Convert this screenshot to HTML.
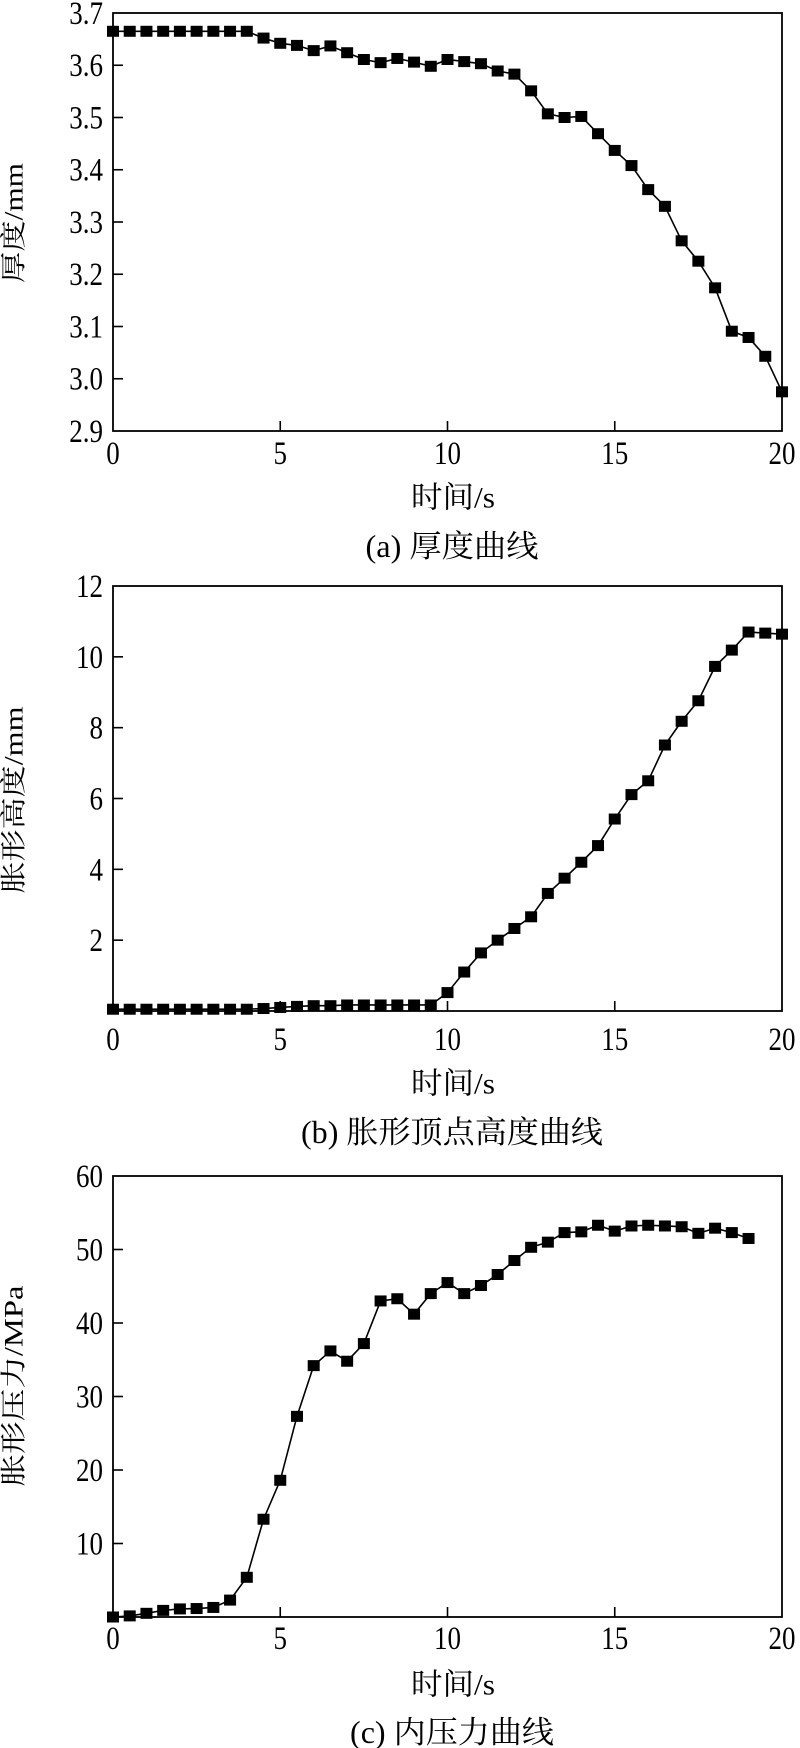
<!DOCTYPE html>
<html><head><meta charset="utf-8"><style>
html,body{margin:0;padding:0;background:#fff;}
svg{display:block;}
text{font-family:"Liberation Serif","Noto Serif CJK SC","Noto Sans CJK SC",serif;fill:#000;}
</style></head><body>
<svg id="s" width="800" height="1748" viewBox="0 0 800 1748" xmlns="http://www.w3.org/2000/svg"></svg>
<script>
const S=document.getElementById('s');let h='';
const L=113,R=782;
function T(x,y,s,anchor,txt,sy,rot,len){
  const tr=rot?`translate(${x} ${y}) rotate(-90)`:`translate(${x} ${y}) scale(1 ${sy})`;
  const tl=len?` textLength="${len}" lengthAdjust="spacingAndGlyphs"`:'';
  return `<text transform="${tr}" x="0" y="0" font-size="${s}" text-anchor="${anchor}" dominant-baseline="central"${tl}>${txt}</text>`;
}
function chart(top,bot,ymin,ymax,yticks,ylab,ylabY,ylabLen,data,tickY,xlY,cap,capY,capLen,yfmt){
  const W=R-L,H=bot-top;
  const px=x=>L+x/20*W, py=v=>bot-(v-ymin)/(ymax-ymin)*H;
  h+=`<rect x="${L}" y="${top}" width="${W}" height="${H}" fill="none" stroke="#000" stroke-width="1.8"/>`;
  for(const t of [0,5,10,15,20]){const x=px(t);
    if(t>0&&t<20)h+=`<line x1="${x}" y1="${bot}" x2="${x}" y2="${bot-10}" stroke="#000" stroke-width="1.6"/>`;
    h+=T(x,tickY,27,'middle',t,1.22,false);}
  for(const t of yticks){const y=py(t);
    if(t>ymin&&t<ymax)h+=`<line x1="${L}" y1="${y}" x2="${L+10}" y2="${y}" stroke="#000" stroke-width="1.6"/>`;
    h+=T(L-10,y,27,'end',yfmt(t),1.22,false);}
  h+=T(14,ylabY,26,'middle',ylab,1,true,ylabLen);
  h+=T(453,xlY,25,'middle','时间/s',1.2,false,84);
  h+=T(452,capY,26,'middle',cap,1.2,false,capLen);
  const pts=data.map((v,i)=>[px(i*0.5),py(v)]);
  h+=`<polyline points="${pts.map(p=>p.join(',')).join(' ')}" fill="none" stroke="#000" stroke-width="1.6"/>`;
  for(const p of pts)h+=`<rect x="${p[0]-6}" y="${p[1]-5.5}" width="12" height="11" fill="#000"/>`;
}
const a=[3.665,3.665,3.665,3.665,3.665,3.665,3.665,3.665,3.665,3.652,3.642,3.638,3.628,3.637,3.624,3.611,3.605,3.613,3.606,3.598,3.611,3.607,3.603,3.589,3.583,3.551,3.507,3.500,3.502,3.469,3.437,3.408,3.362,3.330,3.264,3.225,3.174,3.091,3.079,3.043,2.975];
const b=[0.05,0.05,0.05,0.05,0.05,0.05,0.05,0.05,0.05,0.07,0.1,0.13,0.15,0.15,0.17,0.17,0.17,0.17,0.17,0.17,0.52,1.1,1.64,2.0,2.33,2.66,3.32,3.75,4.2,4.67,5.42,6.11,6.5,7.51,8.18,8.76,9.73,10.19,10.7,10.67,10.64];
const c=[0,0.15,0.5,0.9,1.1,1.15,1.3,2.3,5.4,13.3,18.6,27.3,34.2,36.2,34.8,37.2,43.0,43.3,41.2,44.0,45.5,44.0,45.1,46.6,48.5,50.3,51.0,52.3,52.4,53.3,52.5,53.2,53.3,53.2,53.1,52.2,52.9,52.3,51.5];
chart(13,431,2.9,3.7,[2.9,3.0,3.1,3.2,3.3,3.4,3.5,3.6,3.7],'厚度/mm',223,120,a,453,497,'(a) 厚度曲线',547,173,t=>t.toFixed(1));
chart(586,1011,0,12,[2,4,6,8,10,12],'胀形高度/mm',800,187,b,1039,1083,'(b) 胀形顶点高度曲线',1133,302,t=>t);
chart(1176,1617,0,60,[10,20,30,40,50,60],'胀形压力/MPa',1386,201,c,1638,1684,'(c) 内压力曲线',1733,204,t=>t);
S.innerHTML=h;
</script>
</body></html>
